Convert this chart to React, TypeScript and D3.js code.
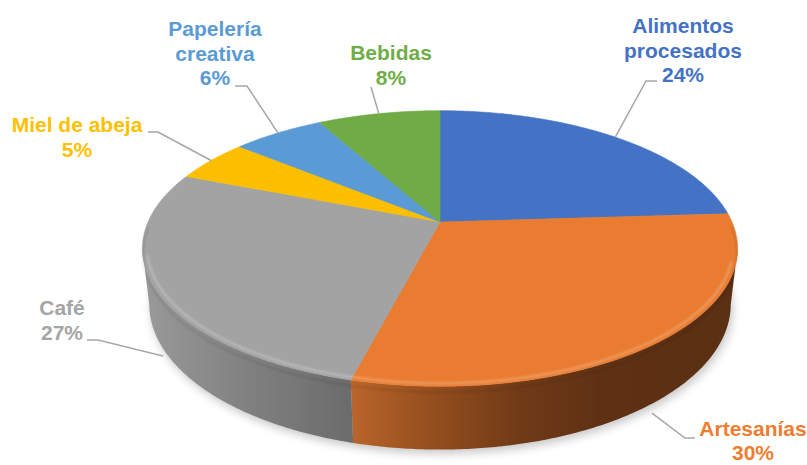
import React from "react";
import * as d3 from "d3";

// chart data
const categories = ["Alimentos procesados", "Artesanías", "Café", "Miel de abeja", "Papelería creativa", "Bebidas"];
const values = [24, 30, 27, 5, 6, 8];
const colors = ["#4472C4", "#ED7D31", "#A5A5A5", "#FFC000", "#5B9BD5", "#70AD47"];
const topColors = ["#4472C4", "#E97C31", "#A3A3A3", "#FBBF00", "#5B9BD5", "#70AB46"];
const labelLines = [["Alimentos", "procesados"], ["Artesanías"], ["Café"], ["Miel de abeja"], ["Papelería", "creativa"], ["Bebidas"]];

// label layout: text centre x, first baseline, leader start + elbow
const labelLayout = [
    { x: 683, y: 33, lead: [[657, 81], [646, 81]] },
    { x: 753, y: 436, lead: [[695, 438], [685, 438]] },
    { x: 62, y: 315, lead: [[87, 340], [98, 340]] },
    { x: 77, y: 132, lead: [[148, 132], [158, 132]] },
    { x: 215, y: 36, lead: [[235, 86], [247, 86]] },
    { x: 391, y: 60, lead: [[371, 87]] }
];

const W = 807;
const H = 465;
const LINE_H = 24.5;

// projection of a tilted 3D disc with a bit of perspective
const CX = 440, CY = 222;
const AX = 292, AY = 284.8;
const SA = 0.466, CA = 0.885, DIST = 4.6;
const K = CA / DIST;
const DEPTH = 0.223;

const proj = (t: number, h: number, r = 1): [number, number] => {
    const x = r * Math.sin(t);
    const z = r * Math.cos(t);
    const w = 1 + K * z - (h * SA) / DIST;
    return [CX + (AX * x) / w, CY - (AY * (z * SA + h * CA)) / w];
};

const arcPts = (a: number, b: number, h: number, r = 1) => {
    const n = Math.max(2, Math.ceil(Math.abs(b - a) / 0.01));
    return d3.range(n + 1).map(i => proj(a + ((b - a) * i) / n, h, r));
};

const FRONT_A = Math.acos(-K);
const FRONT_B = 2 * Math.PI - FRONT_A;

const wallGrad: Record<number, [number, string][]> = {
    1: [[353, "#b9652b"], [420, "#99511f"], [520, "#703a17"], [600, "#5f3114"], [740, "#5a2f12"]],
    2: [[142, "#9a9a9a"], [250, "#808080"], [353, "#6b6b6b"]]
};

export default function App() {
    const pie = d3.pie<number>().sort(null).value(d => d)(values);
    const line = d3.line();

    const shadow = arcPts(0, 2 * Math.PI, -DEPTH).map(([x, y]) => [x + 2, y + 4] as [number, number]);

    return (
        <svg width={W} height={H} style={{ position: "absolute", left: 0, top: 0, background: "#fff" }}>
            <defs>
                <filter id="blur5" x="-20%" y="-20%" width="140%" height="140%">
                    <feGaussianBlur stdDeviation="5" />
                </filter>
                <filter id="blur1" x="-10%" y="-10%" width="120%" height="120%">
                    <feGaussianBlur stdDeviation="1.2" />
                </filter>
                {Object.keys(wallGrad).map(k => (
                    <linearGradient key={k} id={`wall${k}`} gradientUnits="userSpaceOnUse" x1="0" x2={W} y1="0" y2="0">
                        {wallGrad[+k].map(([x, c], i) => (
                            <stop key={i} offset={x / W} stopColor={c} />
                        ))}
                    </linearGradient>
                ))}
            </defs>

            {/* soft shadow */}
            <path d={line(shadow) + "Z"} fill="#000" opacity={0.22} filter="url(#blur5)" />

            {/* visible side walls */}
            {pie.map((s, i) => {
                const a = Math.max(s.startAngle, FRONT_A);
                const b = Math.min(s.endAngle, FRONT_B);
                if (b <= a) return null;
                const pts = [...arcPts(a, b, 0), ...arcPts(b, a, -DEPTH)];
                const fill = wallGrad[i] ? `url(#wall${i})` : colors[i];
                return <path key={i} d={line(pts) + "Z"} fill={fill} />;
            })}

            {/* top faces */}
            {pie.map((s, i) => {
                const pts = [proj(0, 0, 0), ...arcPts(s.startAngle, s.endAngle, 0)];
                return <path key={i} d={line(pts) + "Z"} fill={topColors[i]} stroke={topColors[i]} strokeWidth={0.6} strokeLinejoin="round" />;
            })}

            {/* bevel highlight on the front rim */}
            <path d={line(arcPts(FRONT_A + 0.1, FRONT_B - 0.05, 0, 0.985)) as string}
                fill="none" stroke="#fff" strokeOpacity={0.25} strokeWidth={2.2} filter="url(#blur1)" />
            <path d={line(arcPts(FRONT_A - 0.2, FRONT_B + 0.2, -0.02, 1)) as string}
                fill="none" stroke="#000" strokeOpacity={0.1} strokeWidth={2} filter="url(#blur1)" />

            {/* leader lines */}
            {pie.map((s, i) => {
                const mid = (s.startAngle + s.endAngle) / 2;
                const front = Math.cos(mid) < -K;
                const end = front ? proj(mid, -0.26) : proj(mid, 0);
                const pts = [...labelLayout[i].lead, end] as [number, number][];
                return <path key={i} d={line(pts) as string} fill="none" stroke="#A6A6A6" strokeWidth={1.5} />;
            })}

            {/* labels */}
            {pie.map((s, i) => {
                const L = labelLayout[i];
                const lines = [...labelLines[i], `${values[i]}%`];
                return (
                    <text key={i} x={L.x} y={L.y} textAnchor="middle" fill={colors[i]}
                        fontFamily="'Liberation Sans', Arial, sans-serif" fontWeight="bold" fontSize={21}>
                        {lines.map((t, j) => (
                            <tspan key={j} x={L.x} y={L.y + j * (i === 1 ? 23.5 : LINE_H)}>{t}</tspan>
                        ))}
                    </text>
                );
            })}
        </svg>
    );
}
